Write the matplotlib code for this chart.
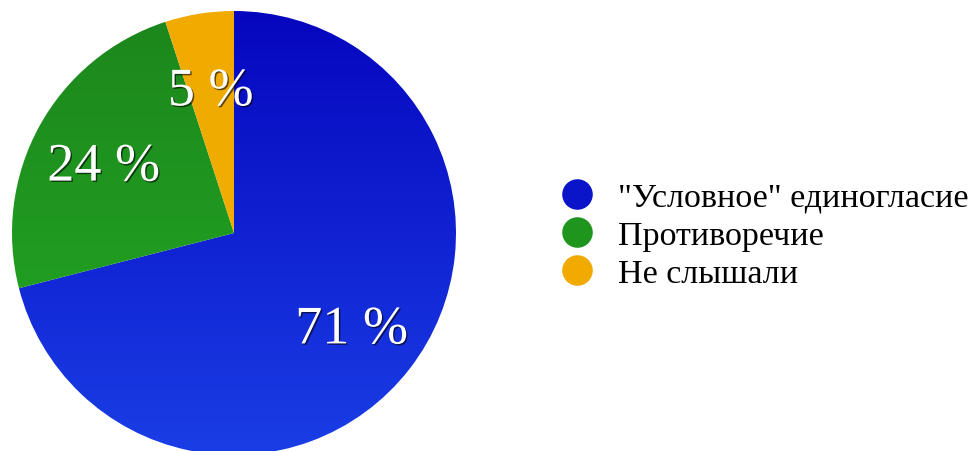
import matplotlib.pyplot as plt
import matplotlib.patheffects as pe
import numpy as np
from matplotlib.colors import LinearSegmentedColormap
from matplotlib.lines import Line2D

plt.rcParams['font.family'] = ['Liberation Serif', 'DejaVu Serif']

labels = ['"Условное" единогласие', 'Противоречие', 'Не слышали']
shares = [71, 24, 5]
# top / bottom shade of each slice (vertical gradient)
shades = [('#0606be', '#1a3ee6'), ('#1c861c', '#24ac24'), ('#f0aa00', '#f2b000')]
legend_colors = ['#0a14c8', '#1e961e', '#f0aa00']

fig = plt.figure(figsize=(9.75, 4.52), dpi=100)
ax = fig.add_axes([12 / 975, -4 / 452, 444 / 975, 444 / 452])

wedges, texts = ax.pie(shares, startangle=90, counterclock=False,
                       labels=[f'{v} %' for v in shares], labeldistance=0.67,
                       wedgeprops=dict(linewidth=0, facecolor='none'),
                       textprops=dict(color='white', fontsize=39,
                                      ha='center', va='center'))

for w, (top, bottom) in zip(wedges, shades):
    cmap = LinearSegmentedColormap.from_list('g', [bottom, top])
    grad = np.linspace(0, 1, 256).reshape(-1, 1)
    im = ax.imshow(grad, cmap=cmap, extent=(-1, 1, -1, 1), origin='lower',
                   aspect='auto', zorder=0.5)
    im.set_clip_path(w)

for t in texts:
    x, y = t.get_position()
    t.set_position((x, y - 0.027))
    t.set_path_effects([pe.SimplePatchShadow(offset=(1, -1), shadow_rgbFace='black', alpha=0.6),
                        pe.Normal()])
    t.set_zorder(3)

ax.set_xlim(-1, 1)
ax.set_ylim(-1, 1)
ax.set_aspect('equal')
ax.axis('off')

handles = [Line2D([], [], marker='o', linestyle='none', markersize=22,
                  markerfacecolor=c, markeredgewidth=0) for c in legend_colors]
fig.legend(handles, labels, loc='center left', bbox_to_anchor=(557 / 975, 1 - 236.5 / 452),
           frameon=False, fontsize=24.5, labelspacing=0.21, handletextpad=0.6,
           handlelength=1.2, borderpad=0, borderaxespad=0)

fig.savefig('out.png', dpi=100)
